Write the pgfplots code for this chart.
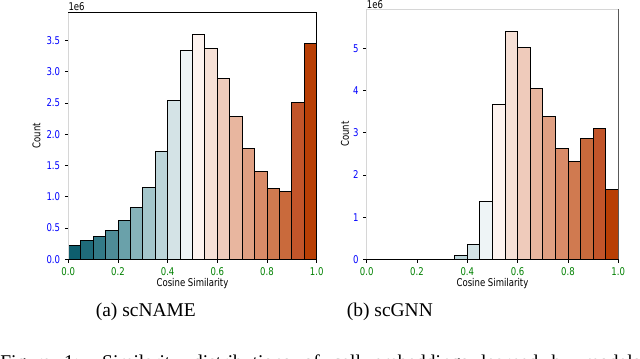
\documentclass[border=0pt]{standalone}
\usepackage{fontspec}
\setmainfont{DejaVu Sans}[FakeStretch=0.8]
\newfontfamily\capfont{Liberation Serif}
\usepackage{pgfplots}
\usepackage{pgfplotstable}
\pgfplotsset{compat=1.18}

% diverging palette, one colour per bin
\definecolor{bin0}{HTML}{0E5E6E}
\definecolor{bin1}{HTML}{1F6B7A}
\definecolor{bin2}{HTML}{337A87}
\definecolor{bin3}{HTML}{4E8C97}
\definecolor{bin4}{HTML}{6AA1AA}
\definecolor{bin5}{HTML}{87B3BA}
\definecolor{bin6}{HTML}{A4C6CB}
\definecolor{bin7}{HTML}{BCD5D9}
\definecolor{bin8}{HTML}{D4E3E6}
\definecolor{bin9}{HTML}{EEF4F6}
\definecolor{bin10}{HTML}{FDF3EF}
\definecolor{bin11}{HTML}{F6E0D6}
\definecolor{bin12}{HTML}{EFCBBB}
\definecolor{bin13}{HTML}{E8B69F}
\definecolor{bin14}{HTML}{E0A083}
\definecolor{bin15}{HTML}{D98B68}
\definecolor{bin16}{HTML}{D07A50}
\definecolor{bin17}{HTML}{C96A3C}
\definecolor{bin18}{HTML}{C2552A}
\definecolor{bin19}{HTML}{B83F05}
\definecolor{tickblue}{HTML}{0000FF}
\definecolor{tickgreen}{HTML}{008000}
\definecolor{spinegray}{HTML}{D6D6D6}

% counts in units of 1e6, bins of width 0.05
\pgfplotstableread{
x y
0.025 0.228
0.075 0.300
0.125 0.367
0.175 0.463
0.225 0.617
0.275 0.836
0.325 1.150
0.375 1.730
0.425 2.545
0.475 3.340
0.525 3.590
0.575 3.380
0.625 2.900
0.675 2.280
0.725 1.770
0.775 1.410
0.825 1.128
0.875 1.086
0.925 2.510
0.975 3.450
}\scname

\pgfplotstableread{
x y
0.025 0.004
0.075 0.004
0.125 0.004
0.175 0.004
0.225 0.004
0.275 0.004
0.325 0.004
0.375 0.085
0.425 0.350
0.475 1.380
0.525 3.660
0.575 5.390
0.625 5.010
0.675 4.040
0.725 3.380
0.775 2.640
0.825 2.310
0.875 2.870
0.925 3.100
0.975 1.660
}\scgnn

\pgfplotsset{
  hist/.style={
    scale only axis, ybar, bar width=0.05, clip=false,
    axis line style={draw=none},
    xmin=0, xmax=1, ymin=0,
    xtick={0,0.2,0.4,0.6,0.8,1.0},
    xtick pos=bottom, ytick pos=left,
    tick align=outside, major tick length=2.6pt,
    tick style={black, line width=0.6pt},
    scaled ticks=false,
    /pgf/number format/assume math mode=true,
    ticklabel style={font=\fontsize{8}{9}\selectfont},
    xticklabel style={text=tickgreen, /pgf/number format/.cd, fixed, fixed zerofill, precision=1},
    yticklabel style={text=tickblue},
    xlabel={Cosine Similarity}, ylabel={Count},
    label style={font=\fontsize{8}{9}\selectfont},
    x label style={at={(axis description cs:0.5,0)}, yshift=-18.5pt, anchor=center},
  },
}

\begin{document}
\begin{tikzpicture}
\path[use as bounding box] (0,0) rectangle (480pt,268.5pt);

% (a) scNAME
\begin{axis}[hist, at={(51.2pt,74pt)}, anchor=south west,
  width=186.3pt, height=185.25pt, ymax=3.95,
  ytick={0,0.5,...,3.5},
  yticklabel style={/pgf/number format/.cd, fixed, fixed zerofill, precision=1},
  y label style={at={(axis description cs:-0.128,0.5)}, anchor=center}]
  \pgfplotsinvokeforeach{0,...,19}{
    \addplot[bar shift=0pt, draw=black, line width=0.6pt, fill=bin#1,
      restrict expr to domain={\coordindex}{#1:#1}] table[x=x, y=y] {\scname};
  }
  \draw[spinegray, line width=0.8pt] (rel axis cs:0,0) -- (rel axis cs:0,1);
  \draw[black, line width=0.8pt] (rel axis cs:0,1) -- (rel axis cs:1,1) -- (rel axis cs:1,0);
  \draw[black, line width=0.8pt] (rel axis cs:0,0) -- (rel axis cs:1,0);
  \node[anchor=south west, inner sep=0pt, font=\fontsize{8}{9}\selectfont] at (rel axis cs:0,1) [yshift=1pt] {1e6};
\end{axis}

% (b) scGNN
\begin{axis}[hist, at={(275pt,74pt)}, anchor=south west,
  width=188.7pt, height=187.7pt, ymax=5.93,
  ytick={0,1,...,5},
  y label style={at={(axis description cs:-0.0864,0.5)}, anchor=center}]
  \pgfplotsinvokeforeach{0,...,19}{
    \addplot[bar shift=0pt, draw=black, line width=0.6pt, fill=bin#1,
      restrict expr to domain={\coordindex}{#1:#1}] table[x=x, y=y] {\scgnn};
  }
  \draw[spinegray, line width=0.8pt] (rel axis cs:0,0) -- (rel axis cs:0,1) -- (rel axis cs:1,1);
  \draw[black!65, line width=0.8pt] (rel axis cs:1,1) -- (rel axis cs:1,0);
  \draw[black, line width=0.8pt] (rel axis cs:0,0) -- (rel axis cs:1,0);
  \node[anchor=south west, inner sep=0pt, font=\fontsize{8}{9}\selectfont] at (rel axis cs:0,1) [yshift=0pt] {1e6};
\end{axis}

\node[anchor=base, font=\capfont\fontsize{14.6}{16}\selectfont] at (109.4pt,31.5pt) {(a) scNAME};
\node[anchor=base, font=\capfont\fontsize{14.6}{16}\selectfont] at (292.4pt,31.5pt) {(b) scGNN};

\begin{scope}
\clip (0,0) rectangle (480pt,268.5pt);
\node[anchor=base west, inner sep=0pt, font=\capfont\fontsize{14.6}{16}\selectfont] at (0pt,-7.5pt)
  {\makebox[480pt][s]{Figure 1: Similarity distributions of cell embeddings learned by models}};
\end{scope}
\end{tikzpicture}
\end{document}
